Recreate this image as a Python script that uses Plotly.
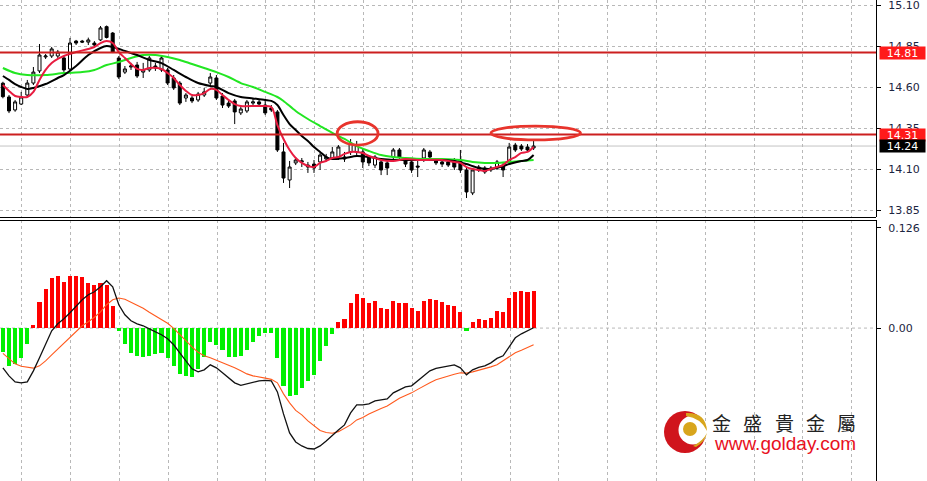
import plotly.graph_objects as go

# ---------------- data ----------------
idx = list(range(88))

open_ = [14.623,14.539,14.460,14.496,14.551,14.624,14.698,14.783,14.789,14.789,
         14.777,14.710,14.880,14.880,14.874,14.868,14.887,14.968,14.929,14.777,
         14.691,14.722,14.734,14.691,14.704,14.728,14.704,14.704,14.655,14.624,
         14.533,14.533,14.521,14.551,14.624,14.655,14.545,14.502,14.515,14.442,
         14.454,14.502,14.509,14.490,14.472,14.448,14.204,14.033,14.137,14.143,
         14.124,14.130,14.143,14.161,14.167,14.173,14.161,14.204,14.204,14.204,
         14.173,14.124,14.143,14.137,14.173,14.216,14.149,14.143,14.118,14.167,
         14.204,14.155,14.143,14.143,14.155,14.155,14.094,13.954,14.112,14.106,
         14.094,14.106,14.124,14.143,14.246,14.240,14.234,14.228]
high = [14.632,14.551,14.521,14.570,14.643,14.722,14.862,14.801,14.844,14.826,
        14.789,14.899,14.887,14.887,14.901,14.880,14.972,14.975,14.935,14.789,
        14.728,14.747,14.753,14.747,14.789,14.747,14.789,14.716,14.673,14.636,
        14.563,14.545,14.570,14.594,14.685,14.673,14.563,14.521,14.527,14.484,
        14.521,14.533,14.521,14.521,14.490,14.460,14.259,14.149,14.173,14.167,
        14.143,14.155,14.198,14.192,14.234,14.246,14.204,14.283,14.271,14.228,
        14.185,14.185,14.167,14.155,14.228,14.228,14.167,14.155,14.155,14.228,
        14.216,14.167,14.155,14.155,14.167,14.216,14.106,14.106,14.124,14.118,
        14.118,14.155,14.143,14.259,14.259,14.252,14.252,14.271]
low = [14.531,14.441,14.449,14.490,14.539,14.612,14.685,14.771,14.777,14.777,
       14.692,14.698,14.856,14.868,14.856,14.844,14.880,14.896,14.807,14.649,
       14.679,14.704,14.655,14.655,14.692,14.698,14.692,14.612,14.582,14.490,
       14.509,14.502,14.509,14.539,14.606,14.521,14.472,14.472,14.374,14.429,
       14.442,14.484,14.484,14.429,14.448,14.204,14.015,13.984,14.124,14.112,
       14.076,14.076,14.094,14.149,14.155,14.155,14.143,14.185,14.173,14.106,
       14.118,14.106,14.063,14.063,14.155,14.155,14.112,14.076,14.051,14.143,
       14.155,14.124,14.112,14.112,14.094,14.076,13.923,13.941,14.082,14.070,
       14.082,14.094,14.051,14.137,14.204,14.210,14.204,14.216]
close = [14.541,14.454,14.509,14.539,14.624,14.691,14.795,14.789,14.832,14.813,
         14.704,14.868,14.868,14.874,14.887,14.856,14.960,14.902,14.813,14.661,
         14.710,14.728,14.667,14.704,14.777,14.716,14.777,14.624,14.594,14.502,
         14.551,14.515,14.557,14.570,14.661,14.533,14.490,14.484,14.448,14.466,
         14.509,14.509,14.496,14.442,14.460,14.216,14.045,14.112,14.155,14.149,
         14.112,14.106,14.185,14.173,14.204,14.234,14.173,14.259,14.246,14.143,
         14.137,14.173,14.094,14.106,14.216,14.173,14.130,14.094,14.112,14.216,
         14.173,14.137,14.130,14.124,14.112,14.094,13.960,14.094,14.094,14.082,
         14.106,14.143,14.094,14.234,14.216,14.222,14.216,14.240]

# moving averages (sampled at bar indices)
ma_red_x = [0,1,2,3,4,5,6,7,8,9,10,12,14,15,16,17,18,19,20,21,22,23,24,26,27,28,29,30,
            31,32,33,34,35,36,37,38,39,42,44,45,46,47,48,49,50,51,52,53,54,55,56,57,58,
            59,60,61,62,64,66,68,72,74,75,76,77,78,79,80,81,82,83,84,85,86,87]
ma_red_y = [14.612,14.576,14.545,14.539,14.539,14.570,14.643,14.704,14.746,14.771,14.789,
            14.813,14.832,14.844,14.868,14.880,14.868,14.813,14.777,14.740,14.710,14.704,
            14.716,14.710,14.685,14.655,14.612,14.576,14.551,14.551,14.563,14.588,14.582,
            14.551,14.521,14.496,14.484,14.484,14.478,14.368,14.283,14.216,14.167,14.137,
            14.118,14.112,14.137,14.149,14.167,14.173,14.192,14.204,14.204,14.198,14.179,
            14.167,14.155,14.149,14.161,14.155,14.155,14.143,14.137,14.112,14.100,14.094,
            14.088,14.100,14.112,14.124,14.155,14.173,14.198,14.204,14.234]
ma_black_x = [0,1,2,3,4,5,7,9,10,12,14,16,17,18,20,22,24,26,28,30,32,34,35,37,39,41,43,
              44,45,46,47,48,49,50,51,52,53,54,56,58,60,62,64,68,72,74,76,78,80,82,83,
              85,86,87]
ma_black_y = [14.667,14.643,14.618,14.600,14.588,14.594,14.618,14.655,14.673,14.728,14.795,
              14.838,14.850,14.844,14.820,14.795,14.765,14.746,14.704,14.661,14.624,14.606,
              14.600,14.563,14.539,14.530,14.521,14.515,14.490,14.429,14.374,14.338,14.301,
              14.271,14.234,14.204,14.173,14.161,14.167,14.179,14.173,14.161,14.155,14.155,
              14.155,14.149,14.130,14.106,14.100,14.118,14.130,14.149,14.155,14.185]
ma_green_x = [0,2,4,7,10,13,15,17,19,21,23,25,27,29,31,33,35,37,39,41,43,45,46,48,50,52,
              54,56,58,60,62,64,66,69,72,75,77,79,81,83,85,87]
ma_green_y = [14.716,14.685,14.673,14.673,14.685,14.691,14.704,14.734,14.752,14.777,14.795,
              14.795,14.783,14.765,14.740,14.716,14.691,14.661,14.624,14.600,14.570,14.539,
              14.515,14.454,14.405,14.362,14.320,14.283,14.240,14.210,14.185,14.173,14.167,
              14.161,14.161,14.155,14.143,14.137,14.137,14.143,14.149,14.155]

# MACD panel
macd_hist = [-0.030,-0.048,-0.045,-0.038,-0.020,0.004,0.033,0.049,0.063,0.066,
             0.058,0.066,0.066,0.064,0.057,0.054,0.057,0.054,0.028,-0.004,
             -0.020,-0.031,-0.035,-0.036,-0.035,-0.033,-0.031,-0.038,-0.048,-0.058,
             -0.060,-0.061,-0.052,-0.037,-0.018,-0.021,-0.027,-0.036,-0.037,-0.035,
             -0.027,-0.018,-0.010,-0.006,-0.006,-0.038,-0.073,-0.086,-0.084,-0.076,
             -0.067,-0.059,-0.041,-0.023,-0.007,0.008,0.0115,0.0315,0.043,0.038,
             0.0315,0.034,0.025,0.024,0.034,0.0315,0.0315,0.025,0.022,0.034,
             0.0365,0.0357,0.033,0.029,0.028,0.020,-0.004,0.008,0.011,0.0096,
             0.0126,0.022,0.020,0.038,0.045,0.047,0.046,0.047]
macd_line = [-0.0500,-0.0601,-0.0677,-0.0689,-0.0677,-0.0538,-0.0374,-0.0210,-0.0034,0.0054,
             0.0117,0.0193,0.0281,0.0357,0.0420,0.0457,0.0520,0.0596,0.0520,0.0294,
             0.0168,0.0092,0.0054,0.0029,-0.0009,-0.0047,-0.0084,-0.0135,-0.0210,-0.0311,
             -0.0412,-0.0513,-0.0551,-0.0525,-0.0462,-0.0500,-0.0563,-0.0626,-0.0689,-0.0721,
             -0.0702,-0.0677,-0.0664,-0.0658,-0.0664,-0.0803,-0.1080,-0.1319,-0.1433,-0.1483,
             -0.1515,-0.1521,-0.1483,-0.1420,-0.1344,-0.1281,-0.1218,-0.1067,-0.0966,-0.0966,
             -0.0954,-0.0916,-0.0903,-0.0891,-0.0815,-0.0777,-0.0740,-0.0727,-0.0664,-0.0601,
             -0.0538,-0.0507,-0.0494,-0.0475,-0.0462,-0.0500,-0.0588,-0.0525,-0.0494,-0.0475,
             -0.0437,-0.0381,-0.0349,-0.0236,-0.0122,-0.0072,-0.0034,0.0004]
signal_line = [-0.0318,-0.0387,-0.0450,-0.0481,-0.0494,-0.0504,-0.0475,-0.0412,-0.0336,-0.0261,
               -0.0185,-0.0110,-0.0034,0.0029,0.0079,0.0136,0.0205,0.0294,0.0357,0.0378,
               0.0363,0.0325,0.0287,0.0249,0.0199,0.0149,0.0105,0.0060,-0.0003,-0.0084,
               -0.0160,-0.0236,-0.0305,-0.0349,-0.0374,-0.0406,-0.0431,-0.0462,-0.0500,-0.0538,
               -0.0576,-0.0601,-0.0620,-0.0630,-0.0645,-0.0689,-0.0828,-0.0941,-0.1036,-0.1092,
               -0.1168,-0.1231,-0.1288,-0.1313,-0.1323,-0.1303,-0.1263,-0.1218,-0.1155,-0.1124,
               -0.1080,-0.1042,-0.1011,-0.0979,-0.0929,-0.0882,-0.0847,-0.0815,-0.0771,-0.0727,
               -0.0689,-0.0651,-0.0626,-0.0607,-0.0582,-0.0563,-0.0567,-0.0551,-0.0532,-0.0507,
               -0.0488,-0.0462,-0.0412,-0.0362,-0.0311,-0.0280,-0.0242,-0.0210]

price_ticks = [15.10, 14.85, 14.60, 14.35, 14.10, 13.85]
macd_ticks = [0.126, 0.0]
macd_tick_text = ["0.126", "0.00"]
levels = [14.81, 14.31]
last_price = 14.24
# zones marked with ellipses: (bar from, bar to, price low, price high)
zones = [(54.8, 61.5, 14.246, 14.388), (80.0, 94.7, 14.277, 14.362)]

# ---------------- figure ----------------
W, H = 927, 481
PW = 876  # plot area width in px
XR = [-0.475, 143.13]

def px(x, y):
    return x / PW, 1 - y / H

fig = go.Figure()

fig.add_trace(go.Candlestick(
    x=idx, open=open_, high=high, low=low, close=close,
    increasing=dict(line=dict(color="black", width=1), fillcolor="white"),
    decreasing=dict(line=dict(color="black", width=1), fillcolor="black"),
    whiskerwidth=0, xaxis="x", yaxis="y", showlegend=False, hoverinfo="skip"))

fig.add_trace(go.Scatter(x=ma_green_x, y=ma_green_y, mode="lines",
                         line=dict(color="#22e622", width=2, shape="spline", smoothing=0.8),
                         xaxis="x", yaxis="y", showlegend=False))
fig.add_trace(go.Scatter(x=ma_black_x, y=ma_black_y, mode="lines",
                         line=dict(color="#000000", width=2, shape="spline", smoothing=0.8),
                         xaxis="x", yaxis="y", showlegend=False))
fig.add_trace(go.Scatter(x=ma_red_x, y=ma_red_y, mode="lines",
                         line=dict(color="#e81c40", width=2, shape="spline", smoothing=0.8),
                         xaxis="x", yaxis="y", showlegend=False))

fig.add_trace(go.Bar(x=idx, y=macd_hist, width=0.66,
                     marker=dict(color=["#ff0000" if v >= 0 else "#00f000" for v in macd_hist],
                                 line=dict(width=0)),
                     xaxis="x2", yaxis="y2", showlegend=False))
fig.add_trace(go.Scatter(x=idx, y=signal_line, mode="lines",
                         line=dict(color="#ff5a1e", width=1.1),
                         xaxis="x2", yaxis="y2", showlegend=False))
fig.add_trace(go.Scatter(x=idx, y=macd_line, mode="lines",
                         line=dict(color="#111111", width=1.3),
                         xaxis="x2", yaxis="y2", showlegend=False))

grid = dict(showgrid=True, gridcolor="#b8b8b8", griddash="3px,3px", gridwidth=1)
tickfont = dict(family="DejaVu Sans", size=11, color="#1c2541")

fig.update_layout(
    width=W, height=H, margin=dict(l=0, r=W - PW, t=0, b=0),
    paper_bgcolor="white", plot_bgcolor="white", bargap=0,
    font=dict(family="DejaVu Sans"),
    xaxis=dict(domain=[0, 1], range=XR, anchor="y", tick0=3.13, dtick=8,
               showticklabels=False, zeroline=False, rangeslider=dict(visible=False),
               fixedrange=True, **grid),
    yaxis=dict(domain=[1 - 217 / H, 1], range=[13.8073, 15.1305], side="right",
               tickvals=price_ticks, ticktext=[f"{v:.2f}" for v in price_ticks],
               ticks="outside", ticklen=4, tickcolor="#000", ticklabelstandoff=5,
               ticklabeloverflow="allow",
               showline=True, linecolor="#000", linewidth=1, zeroline=False,
               tickfont=tickfont, fixedrange=True, **grid),
    xaxis2=dict(domain=[0, 1], range=XR, anchor="y2", tick0=3.13, dtick=8,
                showticklabels=False, zeroline=False, fixedrange=True, **grid),
    yaxis2=dict(domain=[0, 1 - 220 / H], range=[-0.1924, 0.136], side="right",
                tickvals=macd_ticks, ticktext=macd_tick_text,
                ticks="outside", ticklen=4, tickcolor="#000", ticklabelstandoff=5,
                ticklabeloverflow="allow",
                showline=True, linecolor="#000", linewidth=1, zeroline=False,
                showgrid=False, tickfont=tickfont, fixedrange=True),
)

shapes = []
# zero dashed line in MACD panel
shapes.append(dict(type="line", xref="paper", yref="y2", x0=0, x1=1, y0=0, y1=0,
                   line=dict(color="#b8b8b8", width=1, dash="3px,3px"), layer="below"))
# last price line
shapes.append(dict(type="line", xref="paper", yref="y", x0=0, x1=1, y0=last_price, y1=last_price,
                   line=dict(color="#c4c4c4", width=1), layer="below"))
# support / resistance
for lv in levels:
    shapes.append(dict(type="line", xref="paper", yref="y", x0=0, x1=1, y0=lv, y1=lv,
                       line=dict(color="#cc1f1f", width=2)))
# ellipses
for (a, b, lo, hi) in zones:
    shapes.append(dict(type="circle", xref="x", yref="y", x0=a, x1=b, y0=lo, y1=hi,
                       line=dict(color="#e8342c", width=2.8)))
# panel separators
for yy in (217.5, 220.5):
    _, py = px(0, yy)
    shapes.append(dict(type="line", xref="paper", yref="paper", x0=0, x1=1, y0=py, y1=py,
                       line=dict(color="#000", width=1)))

# logo
def circ(cx, cy, r, color):
    x0, y1 = px(cx - r, cy - r)
    x1, y0 = px(cx + r, cy + r)
    return dict(type="circle", xref="paper", yref="paper", x0=x0, x1=x1, y0=y0, y1=y1,
                fillcolor=color, line=dict(width=0))

def path(pts, color):
    s = ""
    for (cmd, coords) in pts:
        s += cmd
        s += " ".join("%.5f,%.5f" % px(x, y) for (x, y) in coords) + " "
    return dict(type="path", xref="paper", yref="paper", path=s + "Z",
                fillcolor=color, line=dict(width=0))

shapes.append(circ(685, 432, 21, "#d0141c"))
shapes.append(circ(693, 430, 14.5, "white"))
shapes.append(path([("M", [(686, 413)]), ("Q", [(706, 412), (707, 431)]),
                    ("Q", [(701, 418), (686, 416)])], "#d8a51c"))
shapes.append(path([("M", [(696, 447)]), ("Q", [(705, 442), (707, 433)]),
                    ("Q", [(703, 441), (693, 446)])], "#d8a51c"))
shapes.append(circ(690, 429, 7, "#d8a51c"))
fig.update_layout(shapes=shapes)

ann = []
for txt, yv, bg in (("14.81", 14.81, "#ff1a1a"), ("14.31", 14.31, "#ff1a1a"), ("14.24", 14.24, "#000000")):
    ann.append(dict(xref="paper", x=1, xanchor="left", xshift=3, yref="y", y=yv,
                    yanchor="middle", text=txt, showarrow=False, bgcolor=bg,
                    font=dict(family="DejaVu Sans", size=11, color="white"),
                    width=45, height=12, borderpad=0, align="center"))
for cx, ch in zip((721, 752, 784, 815, 846), "金盛貴金屬"):
    xx, yy = px(cx, 422)
    ann.append(dict(xref="paper", yref="paper", x=xx, y=yy, text=ch, showarrow=False,
                    xanchor="center", yanchor="middle",
                    font=dict(family="Noto Sans CJK TC", size=19, color="#222222")))
xx, yy = px(785, 443)
ann.append(dict(xref="paper", yref="paper", x=xx, y=yy, text="www.golday.com", showarrow=False,
                xanchor="center", yanchor="middle",
                font=dict(family="Liberation Sans", size=19, color="#e8101e")))
fig.update_layout(annotations=ann)

fig.write_html("out.html", config={"displayModeBar": False},
               post_script="document.body.style.margin='0';document.body.style.overflow='hidden';")
